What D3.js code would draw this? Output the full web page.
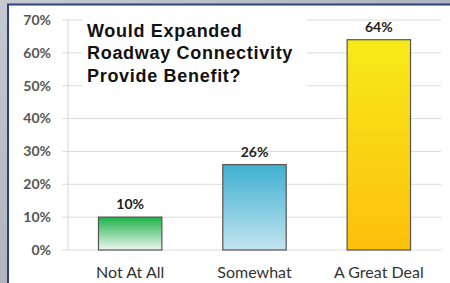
<!DOCTYPE html>
<html><head><meta charset="utf-8">
<script src="https://cdn.jsdelivr.net/npm/d3@7"></script>
<style>html,body{margin:0;padding:0;background:#b4b8c0;}svg{display:block;}</style>
</head><body>
<svg id="c" width="450" height="283"></svg>
<script>
const categories = ["Not At All", "Somewhat", "A Great Deal"];
const values = [10, 26, 64];
const valueLabels = ["10%", "26%", "64%"];
const yTicks = [0, 10, 20, 30, 40, 50, 60, 70];
const titleLines = ["Would Expanded", "Roadway Connectivity", "Provide Benefit?"];

const svg = d3.select("#c");
const defs = svg.append("defs");
const bg = defs.append("linearGradient").attr("id","bg").attr("x1",0).attr("y1",0).attr("x2",1).attr("y2",1);
bg.append("stop").attr("offset","0%").attr("stop-color","#c6c9d0");
bg.append("stop").attr("offset","100%").attr("stop-color","#9aa0ac");
svg.append("rect").attr("width",450).attr("height",283).attr("fill","url(#bg)");
svg.append("rect").attr("x",8).attr("y",4.5).attr("width",446).attr("height",285)
  .attr("fill","#ffffff").attr("stroke","#2c3f88").attr("stroke-width",2);

const grads = [["gG","#1db24a","#eef7ee"],["gB","#3fb0d2","#c3e4ef"],["gY","#f6ea1a","#fdbf0c"]];
grads.forEach(([id,a,b])=>{
  const g = defs.append("linearGradient").attr("id",id).attr("x1",0).attr("y1",0).attr("x2",0).attr("y2",1);
  g.append("stop").attr("offset","0%").attr("stop-color",a);
  g.append("stop").attr("offset","100%").attr("stop-color",b);
});

const x = d3.scaleBand().domain(categories).range([68, 441]).paddingInner(0.49).paddingOuter(0.245);
const y = d3.scaleLinear().domain([0, 70]).range([250, 20]);

svg.append("g").selectAll("line").data(yTicks).join("line")
  .attr("x1",62).attr("x2",441).attr("y1",d=>y(d)).attr("y2",d=>y(d))
  .attr("stroke","#dcdcdc").attr("stroke-width",1);
svg.append("line").attr("x1",68).attr("x2",68).attr("y1",y(70)).attr("y2",y(0))
  .attr("stroke","#d4d4d4");

svg.append("g").selectAll("text").data(yTicks).join("text")
  .attr("x",51).attr("y",d=>y(d)).attr("dy","0.35em").attr("text-anchor","end")
  .attr("font-family","Lato, 'Open Sans', sans-serif").attr("font-size",14).attr("font-weight","bold")
  .attr("fill","#555").text(d=>d+"%");

svg.append("rect").attr("x",82).attr("y",12).attr("width",225).attr("height",78).attr("fill","#fff");
svg.append("g").selectAll("text").data(titleLines).join("text")
  .attr("x",87).attr("y",(d,i)=>36.5+i*22.5)
  .attr("font-family","'Liberation Sans', Arial, sans-serif").attr("font-size",18).attr("font-weight","bold")
  .attr("letter-spacing","0.7px")
  .attr("fill","#111").text(d=>d);

const ids = ["gG","gB","gY"];
svg.append("g").selectAll("rect").data(values).join("rect")
  .attr("x",(d,i)=>x(categories[i])).attr("width",x.bandwidth())
  .attr("y",d=>y(d)).attr("height",d=>y(0)-y(d))
  .attr("fill",(d,i)=>`url(#${ids[i]})`).attr("stroke","#555").attr("stroke-width",1.2);

svg.append("g").selectAll("text").data(values).join("text")
  .attr("x",(d,i)=>x(categories[i])+x.bandwidth()/2).attr("y",d=>y(d)-8)
  .attr("text-anchor","middle")
  .attr("font-family","Lato, 'Open Sans', sans-serif").attr("font-size",14).attr("font-weight","bold")
  .attr("fill","#222").text((d,i)=>valueLabels[i]);

svg.append("g").selectAll("text").data(categories).join("text")
  .attr("x",d=>x(d)+x.bandwidth()/2).attr("y",272).attr("dy","0.35em").attr("text-anchor","middle")
  .attr("font-family","Lato, 'Open Sans', sans-serif").attr("font-size",16)
  .attr("fill","#333").text(d=>d);
</script>
</body></html>
